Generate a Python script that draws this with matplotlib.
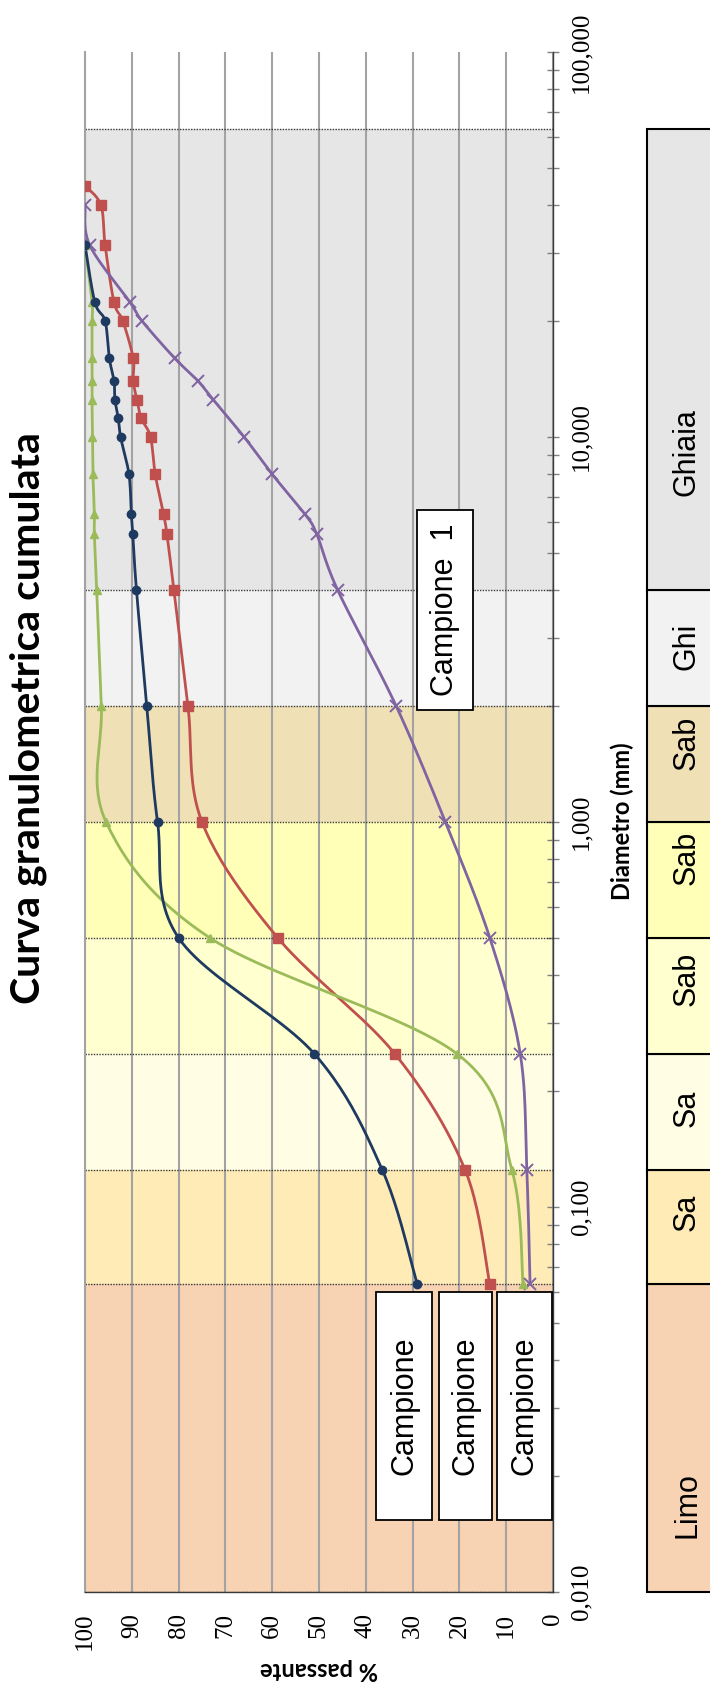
import numpy as np
import matplotlib
matplotlib.use("Agg")
import matplotlib.pyplot as plt
from matplotlib.patches import Rectangle
from matplotlib.font_manager import FontProperties
from matplotlib.ticker import FixedLocator, FixedFormatter, LogLocator, NullFormatter
import matplotlib.transforms as mtransforms

W, H, DPI = 710, 1686, 100

# ---- grain size data: sieve opening (mm) and cumulative % passing ----
diam_blue = [31.5, 22.4, 20, 16, 14, 12.5, 11.2, 10, 8, 6.3, 5.6, 4, 2, 1, 0.5, 0.25, 0.125, 0.063]
pass_blue = [100, 97.9, 95.7, 94.8, 93.8, 93.6, 92.9, 92.4, 90.6, 90.1, 89.8, 89.0, 86.8, 84.5, 80.0, 51.0, 36.5, 29.0]

diam_red = [45, 40, 31.5, 22.4, 20, 16, 14, 12.5, 11.2, 10, 8, 6.3, 5.6, 4, 2, 1, 0.5, 0.25, 0.125, 0.063]
pass_red = [100, 96.6, 95.7, 93.8, 91.9, 89.7, 89.7, 88.9, 88.0, 86.0, 85.0, 83.2, 82.5, 81.0, 78.0, 75.0, 58.8, 33.8, 18.8, 13.5]

diam_green = [31.5, 22.4, 20, 16, 14, 12.5, 10, 8, 6.3, 5.6, 4, 2, 1, 0.5, 0.25, 0.125, 0.063]
pass_green = [100, 98.5, 98.5, 98.5, 98.5, 98.5, 98.4, 98.3, 98.0, 98.0, 97.5, 96.5, 95.5, 73.3, 20.5, 8.8, 6.4]

diam_purple = [40, 31.5, 22.4, 20, 16, 14, 12.5, 10, 8, 6.3, 5.6, 4, 2, 1, 0.5, 0.25, 0.125, 0.063]
pass_purple = [100, 99.0, 90.4, 87.8, 80.8, 75.9, 72.6, 66.0, 60.0, 53.0, 50.5, 46.0, 33.5, 23.0, 13.5, 7.0, 5.6, 4.9]

# ---- granulometric classes ----
zone_edges = [0.01, 0.063, 0.125, 0.25, 0.5, 1, 2, 4, 63]
zone_names = ["Limo", "Sa", "Sa", "Sab", "Sab", "Sab", "Ghi", "Ghiaia"]
zone_colors = ["#F7D3B4", "#FFEBB6", "#FFFDE3", "#FFFFD0", "#FFFFB8", "#EFE0B6", "#F2F2F2", "#E6E6E6"]

pct_ticks = list(range(0, 101, 10))
diam_ticks = [0.01, 0.1, 1, 10, 100]
diam_tick_labels = ["0,010", "0,100", "1,000", "10,000", "100,000"]


def fx(px):
    return px / W


def fy(py):
    return 1 - py / H


def smooth(xs, ys, n=24):
    """Bezier smoothing through the points (Catmull-Rom style control points)."""
    pts = np.column_stack([xs, ys]).astype(float)
    out = []
    m = len(pts)
    for i in range(m - 1):
        p0 = pts[i - 1] if i > 0 else pts[i]
        p1, p2 = pts[i], pts[i + 1]
        p3 = pts[i + 2] if i + 2 < m else pts[i + 1]
        c1 = p1 + (p2 - p0) / 6.0
        c2 = p2 - (p3 - p1) / 6.0
        t = np.linspace(0, 1, n, endpoint=(i == m - 2))[:, None]
        seg = ((1 - t) ** 3) * p1 + 3 * ((1 - t) ** 2) * t * c1 + 3 * (1 - t) * t ** 2 * c2 + t ** 3 * p2
        out.append(seg)
    return np.vstack(out)


fig = plt.figure(figsize=(W / DPI, H / DPI), dpi=DPI)
ax = fig.add_axes([fx(85), fy(1592), (553 - 85) / W, (1592 - 52) / H])

ax.set_yscale("log")
ax.set_ylim(0.01, 100)
ax.set_xlim(100, 0)

# class bands
for lo, hi, c in zip(zone_edges[:-1], zone_edges[1:], zone_colors):
    ax.axhspan(lo, hi, color=c, zorder=0.2, lw=0)
for e in zone_edges:
    ax.axhline(e, color="#3A3A3A", lw=1.0, ls=(0, (1, 1)), zorder=0.6)

# grid
ax.set_axisbelow(True)
ax.set_xticks(pct_ticks)
ax.xaxis.grid(True, color="#A3A3A3", lw=1.5, zorder=0.5)

ax.yaxis.set_major_locator(FixedLocator(diam_ticks))
ax.yaxis.set_major_formatter(FixedFormatter(diam_tick_labels))
ax.yaxis.set_minor_locator(LogLocator(base=10, subs=np.arange(2, 10)))
ax.yaxis.set_minor_formatter(NullFormatter())
ax.yaxis.tick_right()
ax.tick_params(axis="y", which="both", direction="inout", length=9, width=1.0,
               color="#808080", pad=8)
ax.tick_params(axis="x", length=0, pad=15)

tick_fp = FontProperties(family="Liberation Serif", size=18)
for lbl in ax.get_yticklabels():
    lbl.set_rotation(90)
    lbl.set_va("center")
    lbl.set_fontproperties(tick_fp)
for lbl in ax.get_xticklabels():
    lbl.set_rotation(90)
    lbl.set_ha("center")
    lbl.set_va("top")
    lbl.set_fontproperties(tick_fp)

ax.spines["top"].set_visible(False)
ax.spines["left"].set_color("#A3A3A3")
ax.spines["left"].set_linewidth(1.5)
for s in ("right", "bottom"):
    ax.spines[s].set_color("#3A3A3A")
    ax.spines[s].set_linewidth(1.0)
    ax.spines[s].set_linestyle((0, (1, 1)))

# curves
series = [
    (diam_red, pass_red, "#C0504D", dict(marker="s", ms=7, mec="#C0504D")),
    (diam_purple, pass_purple, "#8064A2", dict(marker="x", ms=8, mew=1.4)),
    (diam_green, pass_green, "#9BBB59", dict(marker="^", ms=6, mec="#9BBB59")),
    (diam_blue, pass_blue, "#1F3A60", dict(marker="o", ms=6, mec="#1F3A60")),
]
for d, p, col, mk in series:
    cur = smooth(p, np.log10(d))
    ax.plot(cur[:, 0], 10 ** cur[:, 1], color=col, lw=2.0, zorder=3, solid_capstyle="round")
    ax.plot(p, d, ls="none", color=col, zorder=4, **mk)

# sample label boxes
box_font = dict(family="Liberation Sans", size=22)
camp_boxes = [(0.622, 0.742), (0.756, 0.870), (0.880, 0.998)]
for x0, x1 in camp_boxes:
    ax.add_patch(Rectangle((x0, 0.0468), x1 - x0, 0.148, transform=ax.transAxes,
                           fc="white", ec="black", lw=1.3, zorder=6, clip_on=False))
    ax.text((x0 + x1) / 2, 0.0468 + 0.074, "Campione", transform=ax.transAxes,
            rotation=90, ha="center", va="center", zorder=7, **box_font)
ax.add_patch(Rectangle((0.709, 0.5727), 0.120, 0.1299, transform=ax.transAxes,
                       fc="white", ec="black", lw=1.3, zorder=6, clip_on=False))
ax.text(0.769, 0.6377, "Campione  1", transform=ax.transAxes, rotation=90,
        ha="center", va="center", zorder=7, **box_font)

# class table on the right
tr = mtransforms.blended_transform_factory(fig.transFigure, ax.transData)
for lo, hi, c in zip(zone_edges[:-1], zone_edges[1:], zone_colors):
    fig.patches.append(Rectangle((fx(647), lo), fx(720) - fx(647), hi - lo, transform=tr,
                                 fc=c, ec="black", lw=1.5, figure=fig))
label_y = [1505, 1212, 1108, 979, 858, 743, 646, 452]
for name, py in zip(zone_names, label_y):
    fig.text(fx(687), fy(py), name, rotation=90, ha="center", va="center", **box_font)

# titles
fig.text(fx(28), fy(718), "Curva granulometrica cumulata", rotation=90, ha="center",
         va="center", family="Lato", weight="bold", size=29.5)
fig.text(fx(622), fy(821), "Diametro (mm)", rotation=90, ha="center", va="center",
         family="Lato", weight="bold", size=17)
fig.text(fx(319), fy(1670), "% passante", rotation=180, ha="center", va="center",
         family="Lato", weight="bold", size=17)

fig.savefig("out.png", dpi=DPI)
